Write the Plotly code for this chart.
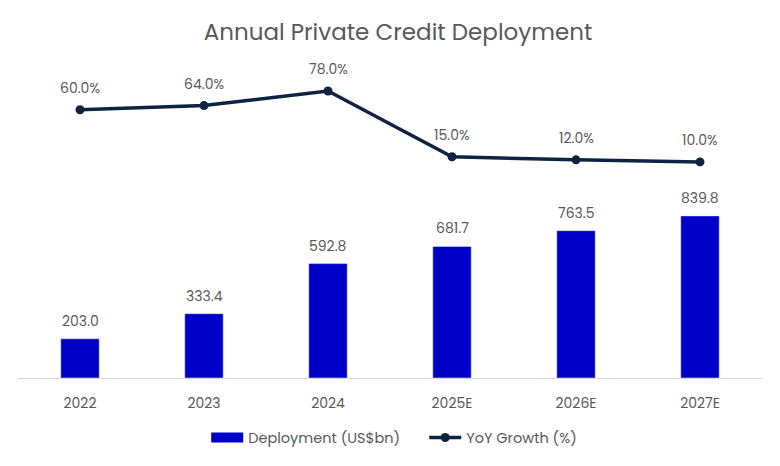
import plotly.graph_objects as go

years = ["2022", "2023", "2024", "2025E", "2026E", "2027E"]
deployment = [203.0, 333.4, 592.8, 681.7, 763.5, 839.8]
yoy_growth = [60.0, 64.0, 78.0, 15.0, 12.0, 10.0]

bar_color = "#0000C8"
line_color = "#0E2341"
text_grey = "#595959"
font_family = "Poppins, Open Sans, sans-serif"

fig = go.Figure()

# barres de deploiement
fig.add_trace(go.Bar(
    x=years, y=deployment, name="Deployment (US$bn)",
    marker=dict(color=bar_color), showlegend=False,
))

# croissance annuelle sur un second axe
fig.add_trace(go.Scatter(
    x=years, y=yoy_growth, name="YoY Growth (%)", yaxis="y2",
    mode="lines+markers",
    line=dict(color=line_color, width=3.5),
    marker=dict(color=line_color, size=9),
    cliponaxis=False, showlegend=False,
))

# entrees de legende (rectangle large pour les barres)
fig.add_trace(go.Scatter(
    x=[years[0]], y=[None], name="Deployment (US$bn)", mode="lines",
    line=dict(color=bar_color, width=10),
))
fig.add_trace(go.Scatter(
    x=[years[0]], y=[None], name="YoY Growth (%)", mode="lines+markers", yaxis="y2",
    line=dict(color=line_color, width=3.5), marker=dict(color=line_color, size=9),
))

# etiquettes de valeurs (x = indice de categorie, sinon "2022" est lu comme un nombre)
for i, v in enumerate(deployment):
    fig.add_annotation(x=i, y=v, yref="y", text=f"{v:.1f}", showarrow=False,
                       yanchor="bottom", yshift=6,
                       font=dict(size=14, color=text_grey))
for i, g in enumerate(yoy_growth):
    fig.add_annotation(x=i, y=g, yref="y2", text=f"{g:.1f}%", showarrow=False,
                       yanchor="bottom", yshift=10,
                       font=dict(size=14, color=text_grey))

fig.update_layout(
    width=780, height=466,
    margin=dict(l=10, r=26, t=72, b=96),
    paper_bgcolor="white", plot_bgcolor="white",
    font=dict(family=font_family, color=text_grey),
    title=dict(text="Annual Private Credit Deployment", x=0.5, xanchor="center",
               y=0.948, yanchor="middle", font=dict(size=23, color=text_grey)),
    bargap=0.69,
    showlegend=True,
    legend=dict(orientation="h", x=0.546, xanchor="center", y=-0.2, yanchor="middle",
                font=dict(size=14.5, color=text_grey), traceorder="normal",
                itemwidth=32, entrywidth=171),
    xaxis=dict(type="category", categoryorder="array", categoryarray=years,
               range=[-0.5, len(years) - 0.5],
               showgrid=False, showline=True, linecolor="#D9D9D9", linewidth=1,
               ticks="", ticklabelstandoff=12, tickfont=dict(size=14, color=text_grey)),
    yaxis=dict(range=[0, 1544], visible=False, showgrid=False),
    yaxis2=dict(range=[-197, 88.5], overlaying="y", visible=False, showgrid=False),
)

fig.write_html("out.html")
